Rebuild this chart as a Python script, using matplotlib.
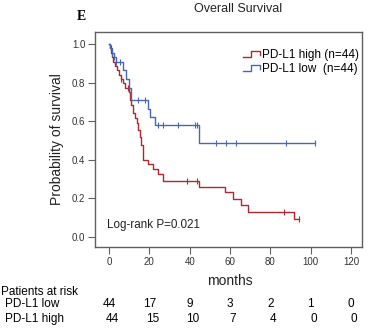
import numpy as np
import matplotlib
matplotlib.use("Agg")
from matplotlib import pyplot as plt
from matplotlib.legend_handler import HandlerBase
from matplotlib.lines import Line2D
from matplotlib.transforms import blended_transform_factory

plt.rcParams['font.family'] = ['Liberation Sans', 'DejaVu Sans']

#---- Data

# PD-L1 low (blue): step times (months) and survival after each step
low_t = [0, 0.5, 1.5, 2.5, 3.5, 7.0, 8.6, 10.0, 10.8, 19.4, 20.5, 22.7, 44.6]
low_s = [1.0, 0.977, 0.955, 0.932, 0.909, 0.864, 0.818, 0.773, 0.71,
         0.665, 0.62, 0.582, 0.485]
low_end = 102
low_cens = [1.5, 2.5, 3.5, 5.4, 14.4, 17.7, 24.3, 26.8, 34.2, 42.5, 43.5,
            52.8, 57.8, 62.9, 88, 102]

# PD-L1 high (red)
high_t = [0, 0.5, 1.0, 1.5, 2.0, 2.7, 3.7, 4.8, 5.7, 7.0, 7.8, 10.0, 10.3,
          11.0, 11.9, 12.8, 13.6, 14.5, 15.3, 16.0, 16.9, 19.4, 21.9, 24.3,
          26.8, 44.6, 57.3, 61.6, 65.3, 68.8, 91.9]
high_s = [1.0, 0.977, 0.955, 0.932, 0.909, 0.886, 0.864, 0.841, 0.818, 0.795,
          0.773, 0.75, 0.71, 0.682, 0.64, 0.614, 0.588, 0.554, 0.515, 0.476,
          0.40, 0.375, 0.35, 0.325, 0.29, 0.26, 0.23, 0.197, 0.165, 0.13, 0.09]
high_end = 94.4
high_cens = [0.8, 6.0, 9.4, 38.7, 43.4, 86.9, 94.4]

# numbers at risk
risk_times = [0, 20, 40, 60, 80, 100, 120]
risk_low = [44, 17, 9, 3, 2, 1, 0]
risk_high = [44, 15, 10, 7, 4, 0, 0]

red = '#b0282e'
blue = '#4a66b0'


def surv_at(t, times, surv):
    idx = np.searchsorted(times, t, side='right') - 1
    return np.asarray(surv)[idx]


class StepHandler(HandlerBase):
    # legend key drawn as a little step, like the original
    def create_artists(self, legend, orig_handle, xdescent, ydescent,
                       width, height, fontsize, trans):
        xs = np.array([0, 0.45, 0.45, 1.0, 1.0]) * width - xdescent
        ys = np.array([0.15, 0.15, 0.85, 0.85, 0.35]) * height - ydescent
        ln = Line2D(xs, ys, color=orig_handle.get_color(),
                    lw=orig_handle.get_linewidth(), transform=trans)
        return [ln]


#---- Plot

fig = plt.figure(figsize=(3.69, 3.28), dpi=100)
ax = fig.add_axes([95/369, 1-247/328, 267/369, 215/328])

for t, s, end, cens, col in [(high_t, high_s, high_end, high_cens, red),
                             (low_t, low_s, low_end, low_cens, blue)]:
    tt = list(t) + [end]
    ss = list(s) + [s[-1]]
    ax.step(tt, ss, where='post', color=col, lw=1.0)
    ax.plot(cens, surv_at(cens, t, s), ls='none', marker='|',
            ms=4.5, mew=0.8, color=col)

ax.set_xlim(-7, 125.5)
ax.set_ylim(-0.053, 1.062)
ax.set_xticks(risk_times)
ax.set_yticks(np.arange(0, 1.01, 0.2))
ax.set_yticklabels(['%.1f' % v for v in np.arange(0, 1.01, 0.2)])

for sp in ax.spines.values():
    sp.set_color('#606060')
    sp.set_linewidth(1.0)
ax.tick_params(direction='out', length=5, width=0.8, color='#606060',
               labelsize=7, labelcolor='#333333', pad=2)

ax.set_ylabel('Probability of survival', fontsize=10, color='#222222')
ax.yaxis.set_label_coords(-0.115, 0.5)
ax.set_xlabel('months', fontsize=10, color='#222222')
ax.xaxis.set_label_coords(0.506, -0.125)

h1 = Line2D([], [], color=red, lw=1.0)
h2 = Line2D([], [], color=blue, lw=1.0)
fig.legend([h1, h2], ['PD-L1 high (n=44)', 'PD-L1 low  (n=44)'],
           handler_map={Line2D: StepHandler()},
           loc='upper left', bbox_to_anchor=(243/369, 1-49/328),
           frameon=False, fontsize=8.5, handlelength=1.45,
           handletextpad=0.15, labelspacing=0.2, borderpad=0,
           borderaxespad=0)

ax.text(-1, 0.06, 'Log-rank P=0.021', fontsize=8.4, va='center',
        color='#222222')

fig.text(238/369, 1-9/328, 'Overall Survival', fontsize=9,
         ha='center', va='center', color='#222222')
fig.text(81/369, 1-16/328, 'E', fontsize=10, fontweight='bold',
         family='Liberation Serif', ha='center', va='center')

#---- Risk table

tr = blended_transform_factory(ax.transData, fig.transFigure)
fig.text(1/369, 1-292/328, 'Patients at risk', fontsize=8.5, va='center')
fig.text(5/369, 1-304/328, 'PD-L1 low', fontsize=8.5, va='center')
fig.text(5/369, 1-319/328, 'PD-L1 high', fontsize=8.5, va='center')
for x, nl, nh in zip(risk_times, risk_low, risk_high):
    ax.text(x, 1-304/328, str(nl), transform=tr, fontsize=8.5,
            ha='center', va='center', clip_on=False)
    ax.text(x + 1.5, 1-319/328, str(nh), transform=tr, fontsize=8.5,
            ha='center', va='center', clip_on=False)

fig.savefig('out.png', dpi=100)
